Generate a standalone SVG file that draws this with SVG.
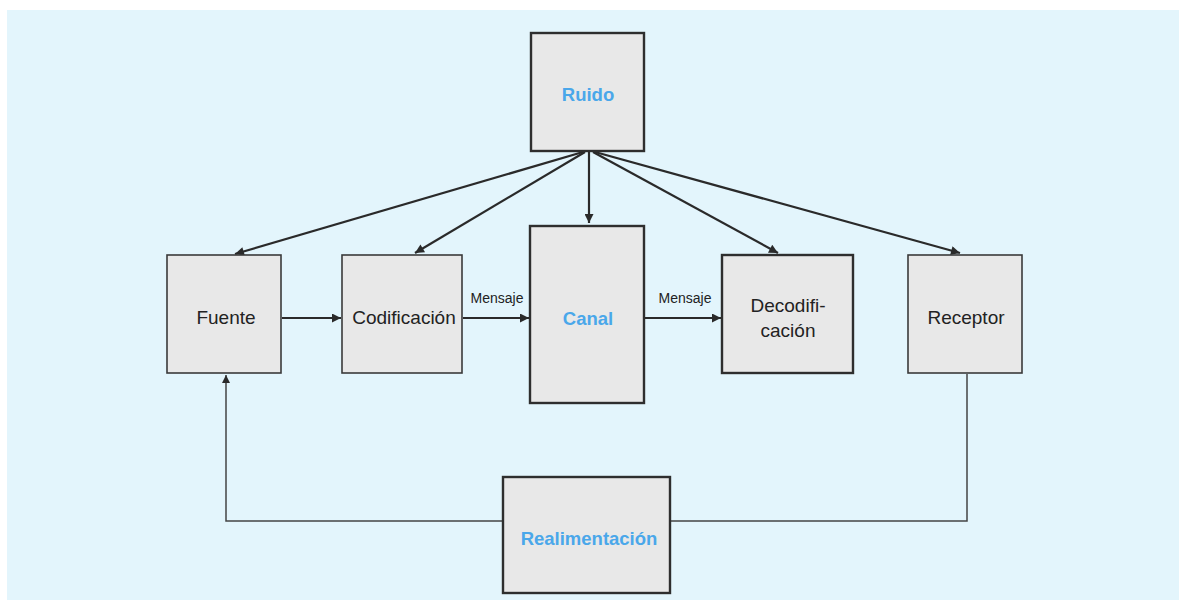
<svg xmlns="http://www.w3.org/2000/svg" width="1179" height="600" viewBox="0 0 1179 600">
<defs>
<marker id="ah" viewBox="0 0 10 10" refX="10" refY="5" markerWidth="10" markerHeight="8" markerUnits="userSpaceOnUse" orient="auto"><path d="M0,0 L10,5 L0,10 Z" fill="#2a2a2a"/></marker>
<marker id="ahs" viewBox="0 0 10 10" refX="10" refY="5" markerWidth="12" markerHeight="9" markerUnits="userSpaceOnUse" orient="auto"><path d="M0,0 L10,5 L0,10 Z" fill="#2a2a2a"/></marker>
<style>
.box{fill:#e8e8e8;stroke:#3a3a3a;stroke-width:1.6}
.boxb{fill:#e8e8e8;stroke:#2e2e2e;stroke-width:2.4}
.lbl{font-family:"Liberation Sans",Arial,sans-serif;font-size:19px;fill:#222;text-anchor:middle;dominant-baseline:central}
.blue{font-family:"Liberation Sans",Arial,sans-serif;font-size:18.5px;font-weight:bold;fill:#4aa7ea;text-anchor:middle;dominant-baseline:central}
.small{font-family:"Liberation Sans",Arial,sans-serif;font-size:14px;fill:#222;text-anchor:middle}
.c{fill:none;stroke:#2a2a2a;stroke-width:2.2}
.ct{fill:none;stroke:#444;stroke-width:1.5}
</style>
</defs>
<rect x="0" y="0" width="1179" height="600" fill="#ffffff"/>
<rect x="7" y="10" width="1172" height="590" fill="#e3f5fc"/>
<g id="connectors">
<line class="c" x1="583" y1="152" x2="235" y2="254" marker-end="url(#ahs)"/>
<line class="c" x1="585" y1="152" x2="415" y2="253" marker-end="url(#ahs)"/>
<line class="c" x1="589" y1="152" x2="589" y2="223" marker-end="url(#ahs)"/>
<line class="c" x1="593" y1="152" x2="778" y2="253" marker-end="url(#ahs)"/>
<line class="c" x1="595" y1="152" x2="960" y2="253" marker-end="url(#ahs)"/>
<line class="c" x1="282" y1="318" x2="341" y2="318" marker-end="url(#ahs)"/>
<line class="c" x1="463" y1="318" x2="529" y2="318" marker-end="url(#ahs)"/>
<line class="c" x1="645" y1="318" x2="721" y2="318" marker-end="url(#ahs)"/>
<text class="small" x="497" y="303">Mensaje</text>
<text class="small" x="685" y="303">Mensaje</text>
<polyline class="ct" points="503,521 226,521 226,375" marker-end="url(#ah)"/>
<polyline class="ct" points="670,521 967,521 967,374"/>
</g>
<g id="ruido"><rect class="boxb" x="531" y="33" width="113" height="118"/><text class="blue" x="588" y="94">Ruido</text></g>
<g id="fuente"><rect class="box" x="167" y="255" width="114" height="118"/><text class="lbl" x="226" y="317">Fuente</text></g>
<g id="codificacion"><rect class="box" x="342" y="255" width="120" height="118"/><text class="lbl" x="404" y="317">Codificación</text></g>
<g id="canal"><rect class="boxb" x="530" y="226" width="114" height="177"/><text class="blue" x="588" y="318">Canal</text></g>
<g id="decodificacion"><rect class="boxb" x="722" y="255" width="131" height="118"/><text class="lbl" x="788" y="305">Decodifi-</text><text class="lbl" x="788" y="330">cación</text></g>
<g id="receptor"><rect class="box" x="908" y="255" width="114" height="118"/><text class="lbl" x="966" y="317">Receptor</text></g>
<g id="realimentacion"><rect class="boxb" x="503" y="477" width="167" height="116"/><text class="blue" x="589" y="538">Realimentación</text></g>
</svg>
